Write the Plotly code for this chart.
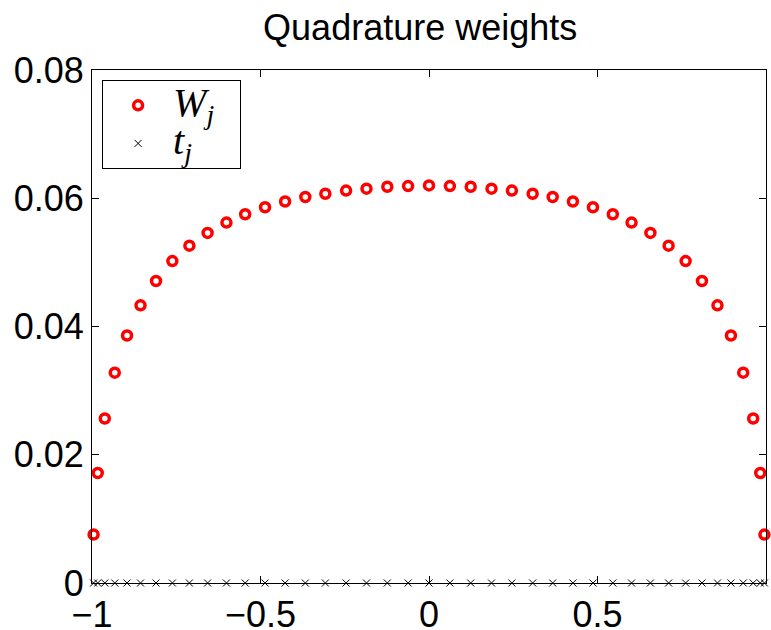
import plotly.graph_objects as go

# Quadrature nodes t_j
nodes = [-0.9953, -0.9830, -0.9620, -0.9324, -0.8960, -0.8560, -0.8100, -0.7615,
         -0.7110, -0.6570, -0.6010, -0.5455, -0.4865, -0.4270, -0.3670, -0.3076,
         -0.2460, -0.1855, -0.1237, -0.0620, 0.0000,
         0.0620, 0.1237, 0.1855, 0.2460, 0.3076, 0.3670, 0.4270, 0.4865,
         0.5455, 0.6010, 0.6570, 0.7110, 0.7615, 0.8100, 0.8560, 0.8960,
         0.9324, 0.9620, 0.9830, 0.9953]

# Quadrature weights W_j
weights = [0.00755, 0.01716, 0.02565, 0.03280, 0.03860, 0.04330, 0.04710, 0.05020,
           0.05260, 0.05460, 0.05620, 0.05750, 0.05860, 0.05950, 0.06020, 0.06070,
           0.06120, 0.06150, 0.06180, 0.06190, 0.06200,
           0.06190, 0.06180, 0.06150, 0.06120, 0.06070, 0.06020, 0.05950, 0.05860,
           0.05750, 0.05620, 0.05460, 0.05260, 0.05020, 0.04710, 0.04330, 0.03860,
           0.03280, 0.02565, 0.01716, 0.00755]

node_level = [0.0] * len(nodes)

x_ticks = [-1, -0.5, 0, 0.5, 1]
x_tick_text = ["\u22121", "\u22120.5", "0", "0.5", "1"]
y_ticks = [0, 0.02, 0.04, 0.06, 0.08]
y_tick_text = ["0", "0.02", "0.04", "0.06", "0.08"]

LEG = '<span style="font-size:40px">%s\u2002</span>'

fig = go.Figure()
fig.add_trace(go.Scatter(
    x=nodes, y=weights, mode="markers",
    name=LEG % "<i>W</i><sub><i>j</i></sub>",
    marker=dict(symbol="circle-open", size=9, color="#ff0000",
                line=dict(width=3.5, color="#ff0000")),
    cliponaxis=False,
))
fig.add_trace(go.Scatter(
    x=nodes, y=node_level, mode="markers",
    name=LEG % "<i>t</i><sub><i>j</i></sub>",
    marker=dict(symbol="x-thin-open", size=7, color="#000000",
                line=dict(width=1, color="#000000")),
    cliponaxis=False,
))

axis_common = dict(
    showgrid=False, zeroline=False, showline=True, linecolor="black",
    linewidth=1, mirror="ticks", ticks="inside", ticklen=7, automargin=False,
    tickcolor="black", tickfont=dict(family="Liberation Sans", size=36, color="black"),
)

fig.update_layout(
    width=771, height=630,
    margin=dict(l=92, r=5, t=70, b=47, autoexpand=False),
    paper_bgcolor="white", plot_bgcolor="white",
    title=dict(text="Quadrature weights", x=0.545, xanchor="center",
               y=0.957, yanchor="middle",
               font=dict(family="Liberation Sans", size=36, color="black")),
    xaxis=dict(range=[-1, 1], tickvals=x_ticks, ticktext=x_tick_text, **axis_common),
    yaxis=dict(range=[0, 0.08], tickvals=y_ticks, ticktext=y_tick_text, **axis_common),
    legend=dict(x=0.015, y=0.98, xanchor="left", yanchor="top",
                bgcolor="white", bordercolor="black", borderwidth=1,
                font=dict(family="Liberation Serif", size=27, color="black"),
                itemwidth=60, tracegroupgap=0),
    showlegend=True,
)

fig.write_html("out.html", config={"displayModeBar": False},
               post_script="document.body.style.margin='0px';")
